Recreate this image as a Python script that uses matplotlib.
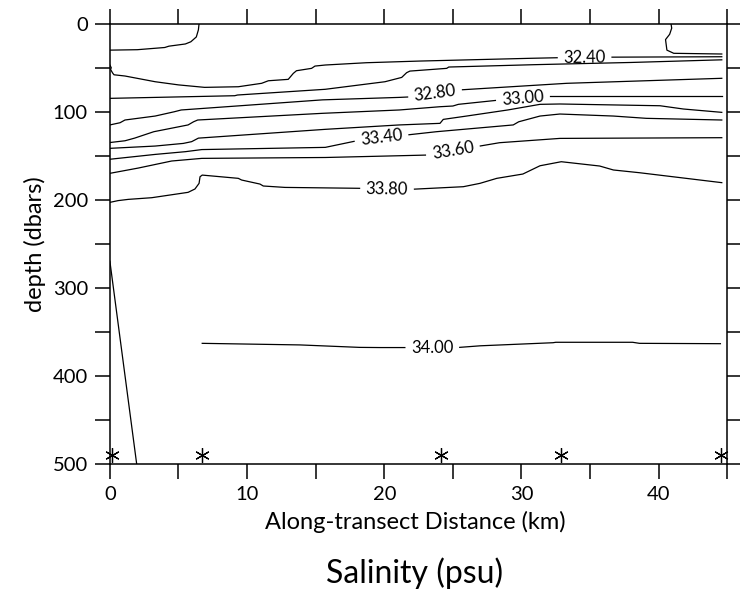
import math
import numpy as np
import matplotlib
matplotlib.use("Agg")
import matplotlib.pyplot as plt

plt.rcParams['font.family'] = ['Lato', 'DejaVu Sans']
plt.rcParams['font.weight'] = 'normal'

# ---------------- data ----------------
# station positions along the transect (km)
station_x = [0.15, 6.7, 24.1, 32.9, 44.55]
station_depth = 490

# contour lines: distance (km) and depth (dbar)
s3220a_x = [0, 2, 4, 4.3, 5.5, 5.9, 6.3, 6.45, 6.5]
s3220a_d = [30, 29.5, 27, 25.5, 23, 20.5, 15, 7, 0]

s3220b_x = [40.9, 40.95, 40.8, 40.5, 40.55, 40.6, 41.1, 44.6]
s3220b_d = [0, 5, 12, 18, 24, 30, 33.6, 34.4]

s3240_x = [0, 0.1, 0.05, 0.2, 0.3, 1.1, 3.3, 5.0, 6.9, 9.36, 11.06, 11.55, 13.0,
           13.37, 13.6, 14.7, 14.95, 15.7, 18.7, 22.6, 30.6, 33.0, 36.3, 44.6]
s3240_d = [47, 50, 52, 56, 58, 59.4, 65.9, 69.5, 72.3, 71.6, 67.7, 64.8, 63.2,
           56.4, 53.4, 50.7, 48.1, 46.9, 44.3, 42.4, 39.3, 38.5, 38.0, 37.5]

s3260_x = [0, 9.1, 9.3, 15.7, 20.05, 21.27, 21.63, 21.87, 24.55, 24.7, 31.0, 38.0, 44.6]
s3260_d = [84.8, 81.8, 81.0, 74.5, 65.9, 61.0, 55.6, 53.8, 50.7, 49.2, 46.5, 44.0, 41.0]

s3280_x = [0, 0.74, 1.1, 3.3, 4.7, 5.2, 15.5, 21.1, 22.1, 25.4, 33.3, 44.6]
s3280_d = [115, 112.5, 109.4, 104.9, 100, 98, 86.5, 83.7, 83.0, 75.3, 67.7, 62.0]

s3300_x = [0, 1.1, 1.8, 3.2, 5.7, 6.1, 6.4, 15.5, 21.1, 24.06, 25.0, 25.4, 28.4, 31.8, 44.6]
s3300_d = [135, 133, 130, 122.7, 115, 111.4, 109.4, 101.8, 98.0, 94.3, 93.5, 91.6, 86.7, 82.2, 82.2]

s3320_x = [0, 3.3, 5.35, 5.96, 6.45, 15.7, 21.1, 24.06, 24.3, 26.0, 29.0, 31.35, 32.8, 40.1, 41.8, 44.6]
s3320_d = [141.6, 139, 136, 134, 130, 120, 115, 113.2, 108.7, 104.9, 98.0, 91.6, 91.2, 93.2, 96.9, 100.7]

s3340_x = [0, 3.3, 5.5, 6.7, 15.7, 18.0, 21.6, 23.8, 29.4, 29.8, 31.35, 32.8, 36.7, 39.1, 44.6]
s3340_d = [154, 148.5, 145.4, 143, 140.5, 133, 126.5, 122.7, 115, 111.4, 104.9, 102.6, 104.9, 107.5, 109.4]

s3360_x = [0, 2.07, 4.5, 6.7, 15.7, 21.1, 23.2, 26.7, 28.4, 32.8, 44.6]
s3360_d = [170, 164, 156, 153, 152, 150, 149.2, 139.7, 135.2, 130.3, 129.5]

s3380_x = [0, 0.6, 1.34, 3.05, 5.7, 6.2, 6.5, 6.57, 6.73, 9.36, 9.6, 10.94, 11.18,
           12.76, 18.1, 21.9, 25.76, 26.97, 28.2, 30.1, 31.35, 32.9, 35.7, 36.7,
           38.6, 42.0, 44.6]
s3380_d = [203, 201, 199.6, 197.7, 191.6, 187.8, 181.4, 173.9, 172, 175.7, 177.6,
           182.2, 184.4, 186, 187, 188.2, 185.2, 181.4, 175.7, 170.8, 161.4, 156.8,
           161.7, 166.2, 169.3, 175.7, 180.6]

s3400_x = [6.73, 13.85, 18.2, 19.7, 25.3, 27.0, 32.3, 32.5, 38.1, 38.6, 44.5]
s3400_d = [363.2, 365, 367.8, 368, 368, 366, 362.5, 362, 362, 363.2, 363.6]

s3420_x = [0, 1.95]
s3420_d = [270, 500]

# contour labels and where along the line (km) they sit
label_text = ['32.40', '32.80', '33.00', '33.40', '33.60', '33.80', '34.00']
label_at_x = [34.6, 23.7, 30.1, 19.8, 25.0, 20.2, 23.5]

# ---------------- figure ----------------
fig = plt.figure(figsize=(7.4, 5.92), dpi=100)
ax = fig.add_axes([0.1485, 0.2167, 0.8343, 0.7432])
ax.set_xlim(0, 45)
ax.set_ylim(500, 0)

unlabelled = [(s3220a_x, s3220a_d), (s3220b_x, s3220b_d), (s3260_x, s3260_d),
              (s3320_x, s3320_d), (s3420_x, s3420_d)]
labelled = list(zip([(s3240_x, s3240_d), (s3280_x, s3280_d), (s3300_x, s3300_d),
                     (s3340_x, s3340_d), (s3360_x, s3360_d), (s3380_x, s3380_d),
                     (s3400_x, s3400_d)], label_text, label_at_x))

LW = 0.9
for xs, ds in unlabelled:
    ax.plot(xs, ds, color='black', lw=LW)


def crossing(xs, ds, x):
    for i in range(len(xs) - 1):
        x0, x1 = xs[i], xs[i + 1]
        if x0 != x1 and min(x0, x1) <= x <= max(x0, x1):
            t = (x - x0) / (x1 - x0)
            return i, ds[i] + t * (ds[i + 1] - ds[i])
    raise ValueError


hw = 2.0  # half gap (km) left for the label
for (xs, ds), lab, lx in labelled:
    xl, xr = lx - hw, lx + hw
    i, dl = crossing(xs, ds, xl)
    j, dr = crossing(xs, ds, xr)
    ax.plot(list(xs[:i + 1]) + [xl], list(ds[:i + 1]) + [dl], color='black', lw=LW)
    ax.plot([xr] + list(xs[j + 1:]), [dr] + list(ds[j + 1:]), color='black', lw=LW)
    _, dc = crossing(xs, ds, lx)
    p1 = ax.transData.transform((xl, dl))
    p2 = ax.transData.transform((xr, dr))
    ang = math.degrees(math.atan2(p2[1] - p1[1], p2[0] - p1[0]))
    ax.text(lx, dc, lab, rotation=ang, rotation_mode='anchor',
            ha='center', va='center', fontsize=12)

# station markers
ax.plot(station_x, [station_depth] * len(station_x), ls='none',
        marker=(6, 2, 0), ms=10.5, mec='black', mew=0.9, clip_on=False)

# axes styling
ax.set_xticks(np.arange(0, 41, 10))
ax.set_xticks([5, 15, 25, 35, 45], minor=True)
ax.set_yticks(np.arange(0, 501, 100))
ax.set_yticks([50, 150, 250, 350, 450], minor=True)
ax.tick_params(which='both', direction='out', length=10.8, width=1.1,
               top=True, right=True, labelsize=14.5, pad=5)
for sp in ax.spines.values():
    sp.set_linewidth(1.1)

ax.set_xlabel('Along-transect Distance (km)', fontsize=17, va='center')
ax.xaxis.set_label_coords(0.494, -0.1325)
ax.set_ylabel('depth (dbars)', fontsize=17, va='center', ha='center')
ax.yaxis.set_label_coords(-0.1213, 0.5)

fig.text(415 / 740, 1 - 573 / 592, 'Salinity (psu)', ha='center', va='center',
         fontsize=23)

fig.savefig('out.png', dpi=100)
